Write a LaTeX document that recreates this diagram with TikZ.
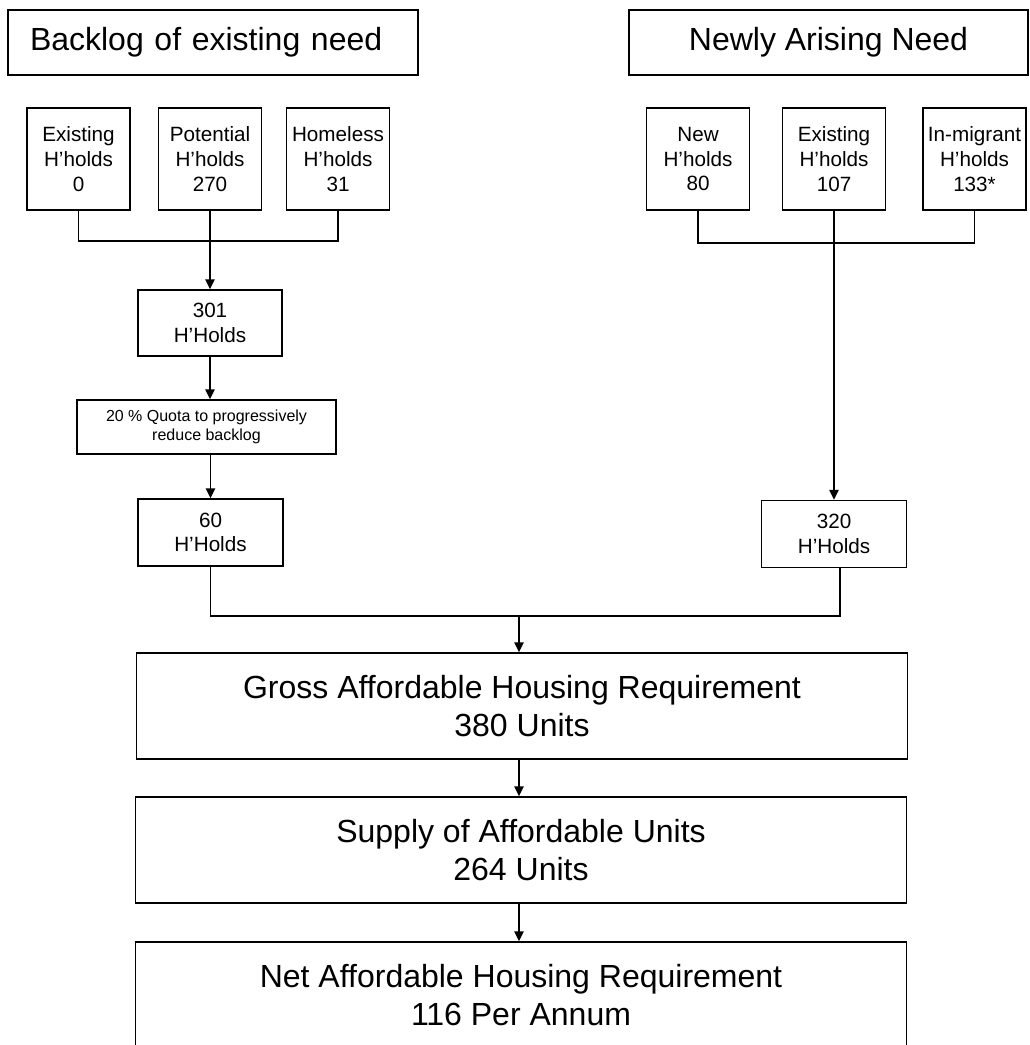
\documentclass[tikz,border=0pt]{standalone}
\usepackage{fontspec}
\setmainfont{Liberation Sans}
\usepackage{tikz}
\usetikzlibrary{arrows.meta}
\newcommand{\bigtxt}{\fontsize{24}{28.5}\selectfont}
\newcommand{\midtxt}{\fontsize{15.5}{18.5}\selectfont}
\newcommand{\smltxt}{\fontsize{12}{14}\selectfont}

\begin{document}
\begin{tikzpicture}[x=0.75pt, y=-0.75pt, line width=1.1pt,
    box/.style={draw, align=center, inner sep=0pt},
    hbox/.style={box, minimum width=77.25pt, minimum height=76.5pt, font=\midtxt},
    sumbox/.style={box, minimum width=108.75pt, minimum height=50.25pt, font=\midtxt},
    bigbox/.style={box, minimum width=578.25pt, minimum height=79.5pt, font=\bigtxt},
    ->/.style={-{Triangle[length=7.5pt, width=7pt]}}]
  \useasboundingbox (0,0) rectangle (1029,1045);

  \node[draw, align=left, text width=274.5pt, inner xsep=16.5pt, inner ysep=0pt,
    minimum height=48.75pt, font=\bigtxt] (back) at (213,42.5) {Backlog of existing need};
  \node[box, minimum width=299.25pt, minimum height=48.75pt, font=\bigtxt] (newly) at (828.5,42.5) {Newly Arising Need};

  \node[hbox] (exl) at (78.5,159) {Existing\\H'holds\\0};
  \node[hbox] (pot) at (210,159) {Potential\\H'holds\\270};
  \node[hbox] (hom) at (338,159) {Homeless\\H'holds\\31};

  \node[hbox] (newh) at (698,159) {New\\H'holds\\80};
  \node[hbox] (exr) at (834,159) {Existing\\H'holds\\107};
  \node[hbox] (inm) at (974.5,159) {In-migrant\\H'holds\\133*};

  \node[box, minimum width=108pt, minimum height=49.5pt, font=\midtxt] (h301) at (210,323) {301\\H'Holds};
  \node[box, minimum width=194.25pt, minimum height=40.5pt, font=\smltxt] (quota) at (206.5,427) {20 \% Quota to progressively\\reduce backlog};
  \node[sumbox] (h60) at (210.5,532.5) {60\\H'Holds};
  \node[sumbox] (h320) at (834,534) {320\\H'Holds};

  \node[bigbox] (gross) at (522,706) {Gross Affordable Housing Requirement\\380 Units};
  \node[bigbox] (supply) at (521,850) {Supply of Affordable Units\\264 Units};
  \node[bigbox] (net) at (521,995) {Net Affordable Housing Requirement\\116 Per Annum};

  \coordinate (jl) at (210,241);
  \coordinate (jr) at (834,243);
  \coordinate (jm) at (519,616);

  \draw (exl.south) |- (jl) -| (hom.south);
  \draw[->] (pot.south) -- (h301.north);
  \draw[->] (h301.south) -- (quota.north -| h301.south);
  \draw[->] (quota.south -| h60.north) -- (h60.north);

  \draw (newh.south) |- (jr) -| (inm.south);
  \draw[->] (exr.south) -- (h320.north);

  \draw (h60.south) |- (jm) -| ([xshift=4.5pt]h320.south);
  \draw[->] (jm) -- (jm |- gross.north);
  \draw[->] (gross.south -| jm) -- (jm |- supply.north);
  \draw[->] (supply.south -| jm) -- (jm |- net.north);
\end{tikzpicture}
\end{document}
